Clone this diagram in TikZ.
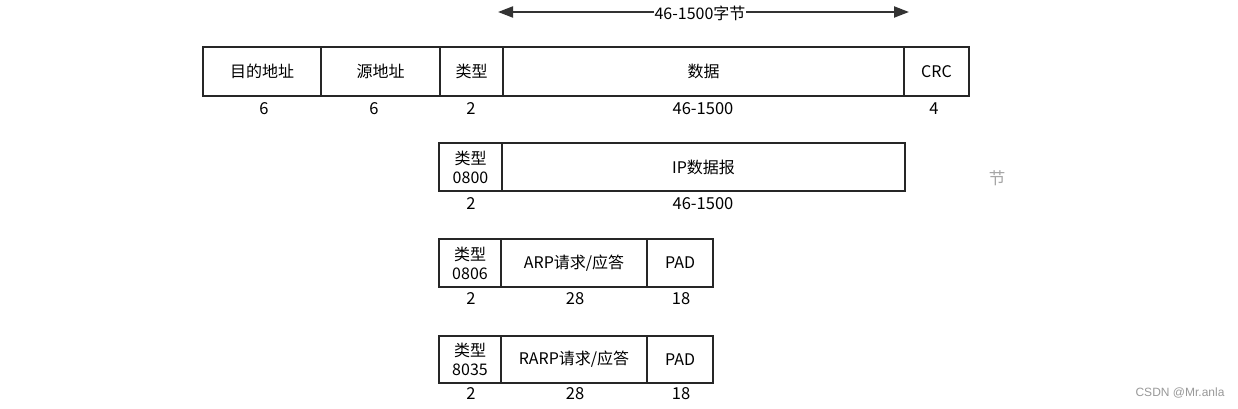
\documentclass[tikz,border=0pt]{standalone}
\usepackage{fontspec}
\setmainfont{Noto Sans CJK SC}
\usetikzlibrary{arrows.meta}
\begin{document}
\begin{tikzpicture}[x=1pt,y=-1pt,
  field/.style={draw=black!85,line width=2pt,inner sep=0pt,font=\fontsize{16}{19}\selectfont},
  num/.style={font=\fontsize{16.5}{18}\selectfont,inner sep=0pt}]
\useasboundingbox[fill=white] (0,0) rectangle (1238,409);
% row 1
\node[field,minimum width=118,minimum height=49] (dst) at (262,71.5) {目的地址};
\node[field,minimum width=119,minimum height=49] (src) at (380.5,71.5) {源地址};
\node[field,minimum width=63,minimum height=49] (typ) at (471.5,71.5) {类型};
\node[field,minimum width=401,minimum height=49] (dat) at (703.5,71.5) {数据};
\node[field,minimum width=65,minimum height=49] (crc) at (936.5,71.5) {CRC};
\node[num] (n1) at (264,109) {6};
\node[num] (n2) at (374,109) {6};
\node[num] (n3) at (471,109) {2};
\node[num] (n4) at (703,109) {46-1500};
\node[num] (n5) at (934,109) {4};
\coordinate (al) at (498,12);
\coordinate (ar) at (909,12);
\draw[line width=2pt,draw=black!80,{Triangle[length=15pt,width=11pt]}-{Triangle[length=15pt,width=11pt]}] (al) -- (ar);
\node[field,draw=none,fill=white,inner xsep=1pt,inner ysep=2pt] (len) at (700,13) {46-1500字节};
% row 2
\node[field,minimum width=63,minimum height=48,align=center] (t2) at (470.5,167) {类型\\0800};
\node[field,minimum width=403,minimum height=48] (ip) at (703.5,167) {IP数据报};
\node[num] (m1) at (471,204) {2};
\node[num] (m2) at (703,204) {46-1500};
% row 3
\node[field,minimum width=62,minimum height=48,align=center] (t3) at (470,263) {类型\\0806};
\node[field,minimum width=146,minimum height=48] (arp) at (574,263) {ARP请求/应答};
\node[field,minimum width=66,minimum height=48] (pad3) at (680,263) {PAD};
\node[num] (k1) at (471,299) {2};
\node[num] (k2) at (575,299) {28};
\node[num] (k3) at (681,299) {18};
% row 4
\node[field,minimum width=62,minimum height=47,align=center] (t4) at (470,359.5) {类型\\8035};
\node[field,minimum width=146,minimum height=47] (rarp) at (574,359.5) {RARP请求/应答};
\node[field,minimum width=66,minimum height=47] (pad4) at (680,359.5) {PAD};
\node[num] (j1) at (471,394) {2};
\node[num] (j2) at (575,394) {28};
\node[num] (j3) at (681,394) {18};
% stray glyph and watermark
\node[num,text=black!35] (stray) at (997,178) {节};
\node[font=\fontsize{12}{14}\selectfont,text=black!40,inner sep=0pt] (wm) at (1180,393) {\setmainfont{Liberation Sans}CSDN @Mr.anla};
\end{tikzpicture}
\end{document}
